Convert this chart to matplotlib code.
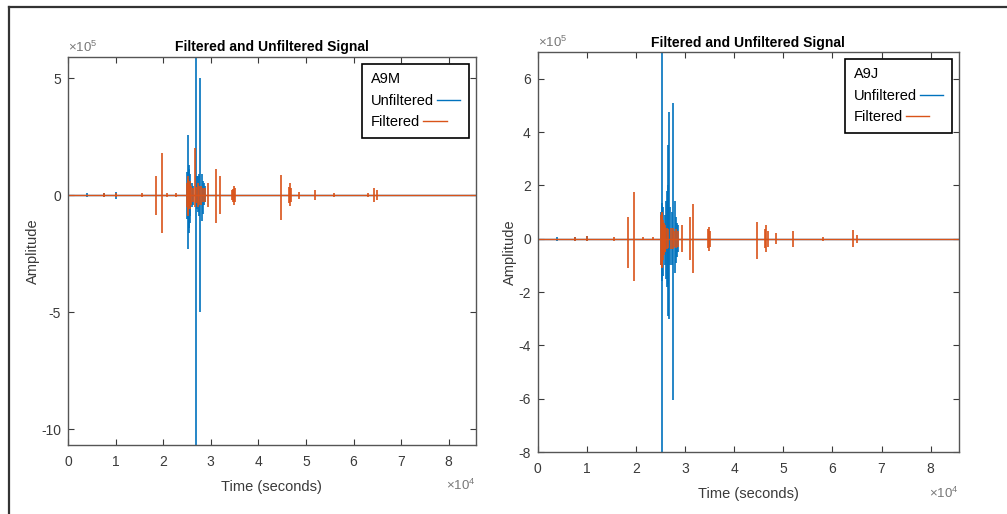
import numpy as np
import matplotlib
matplotlib.use("Agg")
import matplotlib.pyplot as plt
from matplotlib.lines import Line2D
from matplotlib.ticker import FuncFormatter

plt.rcParams['font.family'] = ['Liberation Sans', 'DejaVu Sans']
plt.rcParams['mathtext.fontset'] = 'custom'
plt.rcParams['mathtext.rm'] = 'Liberation Sans'
plt.rcParams['mathtext.default'] = 'regular'

BLUE = "#0072BD"
ORANGE = "#D95319"
GREY = "#3a3a3a"

# ---------------------------- data ----------------------------
TIME_RANGE = [0, 86400]   # one day of samples, seconds

# A9M station, spikes as (time, upper peak, lower peak)
a9m_unf_t  = [4000, 7500, 10000, 25100, 25300, 25400, 25500, 25600, 25700, 26000, 26300,
              26800, 27100, 27400, 27600, 27800, 28100, 28300, 28500, 28800]
a9m_unf_hi = [0.1e5, 0.1e5, 0.15e5, 1.0e5, 2.55e5, 1.3e5, 1.1e5, 0.6e5, 0.9e5, 0.5e5, 0.4e5,
              7.0e5, 0.8e5, 0.8e5, 0.9e5, 5.0e5, 0.9e5, 0.6e5, 0.5e5, 0.4e5]
a9m_unf_lo = [-0.1e5, -0.1e5, -0.15e5, -1.0e5, -2.3e5, -1.6e5, -1.4e5, -0.9e5, -1.2e5, -0.5e5, -0.4e5,
              -12.0e5, -0.6e5, -0.7e5, -0.9e5, -5.0e5, -1.1e5, -0.8e5, -0.4e5, -0.3e5]

a9m_fil_t  = [7500, 10000, 15500, 18500, 19700, 20800, 22800, 25000, 25200, 25300, 25500,
              25700, 25900, 26200, 26600, 27000, 27300, 27600, 28000, 28400, 28800, 29400,
              31100, 31900, 34500, 34700, 34900, 35100, 44800, 46400, 46600, 46800, 48500,
              52000, 56000, 63000, 64300, 65000]
a9m_fil_hi = [0.1e5, 0.1e5, 0.08e5, 0.8e5, 1.8e5, 0.08e5, 0.08e5, 0.5e5, 0.7e5, 0.8e5, 0.5e5,
              0.6e5, 0.4e5, 0.3e5, 2.0e5, 0.35e5, 0.5e5, 0.4e5, 0.4e5, 0.3e5, 0.3e5, 0.5e5,
              1.1e5, 0.8e5, 0.2e5, 0.25e5, 0.4e5, 0.3e5, 0.85e5, 0.35e5, 0.5e5, 0.3e5, 0.15e5,
              0.2e5, 0.1e5, 0.1e5, 0.3e5, 0.2e5]
a9m_fil_lo = [-0.1e5, -0.1e5, -0.08e5, -0.85e5, -1.6e5, -0.08e5, -0.08e5, -0.5e5, -0.8e5, -0.9e5, -0.6e5,
              -0.6e5, -0.4e5, -0.3e5, -0.5e5, -0.35e5, -0.5e5, -0.4e5, -0.4e5, -0.3e5, -0.3e5, -0.5e5,
              -1.2e5, -0.8e5, -0.2e5, -0.3e5, -0.4e5, -0.3e5, -1.05e5, -0.35e5, -0.45e5, -0.3e5, -0.15e5,
              -0.2e5, -0.1e5, -0.1e5, -0.3e5, -0.2e5]

# A9J station
a9j_unf_t  = [4000, 7500, 10000, 25000, 25300, 25400, 25600, 25900, 26100, 26300, 26500,
              26600, 26800, 27000, 27300, 27600, 27900, 28100, 28300, 28600]
a9j_unf_hi = [0.08e5, 0.08e5, 0.1e5, 1.0e5, 8.0e5, 1.35e5, 1.2e5, 0.9e5, 1.4e5, 1.8e5, 3.5e5,
              2.0e5, 4.75e5, 1.2e5, 1.0e5, 5.08e5, 1.4e5, 0.8e5, 0.6e5, 0.5e5]
a9j_unf_lo = [-0.08e5, -0.08e5, -0.1e5, -1.0e5, -8.5e5, -1.6e5, -1.4e5, -1.0e5, -1.5e5, -1.8e5, -2.9e5,
              -1.7e5, -3.0e5, -1.0e5, -1.0e5, -6.05e5, -1.3e5, -0.9e5, -0.7e5, -0.5e5]

a9j_fil_t  = [7500, 10000, 15500, 18400, 19600, 21500, 23500, 25100, 25200, 25300, 25400,
              25500, 25700, 25900, 26000, 26300, 26600, 27200, 27500, 27800, 28200, 28500,
              29300, 31000, 31700, 34700, 34900, 35100, 44700, 46300, 46500, 46800, 48500,
              52000, 58000, 64200, 65000]
a9j_fil_hi = [0.08e5, 0.1e5, 0.08e5, 0.83e5, 1.75e5, 0.06e5, 0.06e5, 0.9e5, 1.0e5, 0.95e5, 0.8e5,
              0.7e5, 0.6e5, 0.5e5, 0.4e5, 0.4e5, 0.35e5, 0.4e5, 0.4e5, 0.3e5, 0.35e5, 0.3e5,
              0.5e5, 0.83e5, 1.32e5, 0.35e5, 0.45e5, 0.3e5, 0.62e5, 0.35e5, 0.5e5, 0.3e5, 0.2e5,
              0.3e5, 0.08e5, 0.33e5, 0.15e5]
a9j_fil_lo = [-0.08e5, -0.1e5, -0.08e5, -1.08e5, -1.59e5, -0.06e5, -0.06e5, -1.0e5, -1.1e5, -1.05e5, -0.9e5,
              -0.8e5, -0.6e5, -0.5e5, -0.5e5, -0.4e5, -0.35e5, -0.4e5, -0.4e5, -0.3e5, -0.35e5, -0.3e5,
              -0.5e5, -0.8e5, -1.27e5, -0.35e5, -0.45e5, -0.3e5, -0.75e5, -0.35e5, -0.5e5, -0.3e5, -0.2e5,
              -0.3e5, -0.08e5, -0.3e5, -0.15e5]


# ---------------------------- plotting ----------------------------
def signal_panel(ax, name, unf, fil, ylim, yticks):
    # baseline + spikes, unfiltered first so the filtered one sits on top
    h_unf, = ax.plot(TIME_RANGE, [0, 0], color=BLUE, lw=1.0, label="Unfiltered")
    ax.vlines(unf[0], unf[2], unf[1], color=BLUE, lw=1.2)
    h_fil, = ax.plot(TIME_RANGE, [0, 0], color=ORANGE, lw=1.0, label="Filtered")
    ax.vlines(fil[0], fil[2], fil[1], color=ORANGE, lw=1.2)

    ax.set_xlim(0, 85700)
    ax.set_ylim(*ylim)
    ax.set_xticks(np.arange(0, 9) * 1e4)
    ax.set_yticks(yticks)
    ax.xaxis.set_major_formatter(FuncFormatter(lambda v, p: f"{v/1e4:g}"))
    ax.yaxis.set_major_formatter(FuncFormatter(lambda v, p: f"{v/1e5:g}"))
    ax.tick_params(direction="in", length=4, width=0.8, top=True, right=True,
                   labelsize=10, colors=GREY)
    ax.tick_params(axis="x", pad=7)
    ax.tick_params(axis="y", pad=5)
    for sp in ax.spines.values():
        sp.set_color("#555555")
        sp.set_linewidth(1.0)

    ax.set_title("Filtered and Unfiltered Signal", fontsize=10, fontweight="bold", pad=4)
    ax.set_xlabel("Time (seconds)", fontsize=10.5, color=GREY, labelpad=8)
    ax.set_ylabel("Amplitude", fontsize=10.5, color=GREY, labelpad=1)

    ax.text(0.0, 1.005, r"$\times10^{5}$", transform=ax.transAxes, ha="left", va="bottom",
            fontsize=9.5, color="#777777")
    ax.text(1.0, -0.085, r"$\times10^{4}$", transform=ax.transAxes, ha="right", va="top",
            fontsize=9.5, color="#777777")

    leg = ax.legend(handles=[h_unf, h_fil], title=name, loc="upper right",
                    markerfirst=False, handlelength=1.6, handletextpad=0.2,
                    fontsize=10.5, title_fontsize=10.5, fancybox=False, framealpha=1,
                    borderpad=0.6, borderaxespad=0.45)
    leg.get_frame().set_edgecolor("black")
    leg.get_frame().set_linewidth(1.2)
    leg._legend_box.align = "left"
    # keep labels left aligned, line sample right after each label (matlab look)
    for col in leg._legend_handle_box.get_children():
        col.align = "left"


fig = plt.figure(figsize=(10.07, 5.14), dpi=100)
ax1 = fig.add_axes([0.0675, 0.134, 0.405, 0.755])
ax2 = fig.add_axes([0.534, 0.1206, 0.418, 0.778])

signal_panel(ax1, "A9M", (a9m_unf_t, a9m_unf_hi, a9m_unf_lo), (a9m_fil_t, a9m_fil_hi, a9m_fil_lo),
             (-10.68e5, 5.9e5), [-10e5, -5e5, 0, 5e5])
signal_panel(ax2, "A9J", (a9j_unf_t, a9j_unf_hi, a9j_unf_lo), (a9j_fil_t, a9j_fil_hi, a9j_fil_lo),
             (-8e5, 7e5), np.arange(-8, 7, 2) * 1e5)

# screenshot frame (top and left edge)
fig.add_artist(Line2D([9 / 1007, 1], [1 - 7 / 514, 1 - 7 / 514], color="#333333", lw=1.6))
fig.add_artist(Line2D([9 / 1007, 9 / 1007], [0, 1 - 7 / 514], color="#333333", lw=1.6))

fig.savefig("out.png", dpi=100)
